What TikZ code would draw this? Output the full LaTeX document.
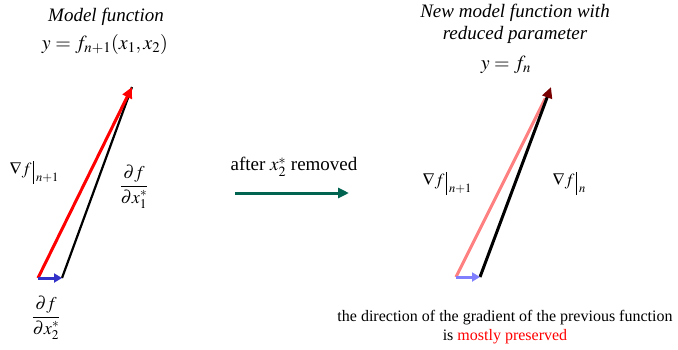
\documentclass[tikz,border=0pt]{standalone}
\usepackage{amsmath}
\usepackage{mathptmx}
\usepackage{fontspec}
\setmainfont{Liberation Serif}
\usetikzlibrary{arrows.meta,calc}
\definecolor{vred}{RGB}{255,0,0}
\definecolor{vblue}{RGB}{50,50,200}
\definecolor{vpink}{RGB}{255,128,128}
\definecolor{vlblue}{RGB}{128,128,255}
\definecolor{vdark}{RGB}{120,0,0}
\definecolor{vteal}{RGB}{0,100,80}
\newcommand{\gradbar}[1]{$\nabla f\,\vrule height 14pt depth 9pt width 0.7pt\,\lower7pt\hbox{$\scriptstyle #1$}$}
\tikzset{
  lbl/.style={inner sep=0pt, font=\fontsize{17}{20}\selectfont},
  frc/.style={inner sep=0pt, font=\fontsize{18}{21}\selectfont},
  ttl/.style={inner sep=0pt, font=\fontsize{19}{22}\selectfont\itshape, align=center},
  eqn/.style={inner sep=0pt, font=\fontsize{20}{24}\selectfont},
  vec/.style={line width=3pt},
  tip/.style={-{Triangle[length=11pt,width=10pt]}}
}
\begin{document}
\begin{tikzpicture}[x=1pt,y=-1pt]
\useasboundingbox (0,0) rectangle (678,349);
% left
\coordinate (LO) at (38,278);
\coordinate (LB) at (62,278);
\coordinate (LT) at (132,87);
\draw[line width=2.2pt, black] (LB) -- (LT);
\draw[vec, vred, tip] (LO) -- (LT);
\draw[vec, vblue, -{Triangle[length=8pt,width=9pt]}] (LO) -- (LB);
\node[ttl] (t1) at (106,17) {Model function};
\node[eqn] (e1) at (105,44) {$y=f_{n+1}(x_1,x_2)$};
\node[lbl] (g1) at (34,172) {\gradbar{n+1}};
\node[frc] (p1) at (134,187) {$\dfrac{\partial f}{\partial x_1^*}$};
\node[frc] (p2) at (46,318) {$\dfrac{\partial f}{\partial x_2^*}$};
% middle
\node[inner sep=0pt, font=\fontsize{19}{22}\selectfont] (mid) at (294,167) {after $x_2^*$ removed};
\coordinate (A1) at (235,193);
\coordinate (A2) at (349,193);
\draw[vec, vteal, -{Triangle[length=11pt,width=10pt]}] (A1) -- (A2);
% right
\coordinate (RO) at (456,277);
\coordinate (RB) at (480,277);
\coordinate (RT) at (551,87);
\draw[vec, vpink] (RO) -- ($(RT)!0.06!(RO)$);
\draw[line width=3pt, black, -{Triangle[length=11pt,width=10pt,color=vdark,fill=vdark]}] (RB) -- (RT);
\draw[vec, vlblue, -{Triangle[length=8pt,width=9pt]}] (RO) -- (RB);
\node[ttl] (t2) at (515,24) {New model function with\\reduced parameter};
\node[eqn] (e2) at (506,65) {$y=f_n$};
\node[lbl] (g2) at (447,183) {\gradbar{n+1}};
\node[lbl] (g3) at (569,183) {\gradbar{n}};
\node[align=center, inner sep=0pt, font=\fontsize{16}{19.5}\selectfont] (bot) at (505,327) {the direction of the gradient of the previous function\\is \textcolor{vred}{mostly preserved}};
\end{tikzpicture}
\end{document}
